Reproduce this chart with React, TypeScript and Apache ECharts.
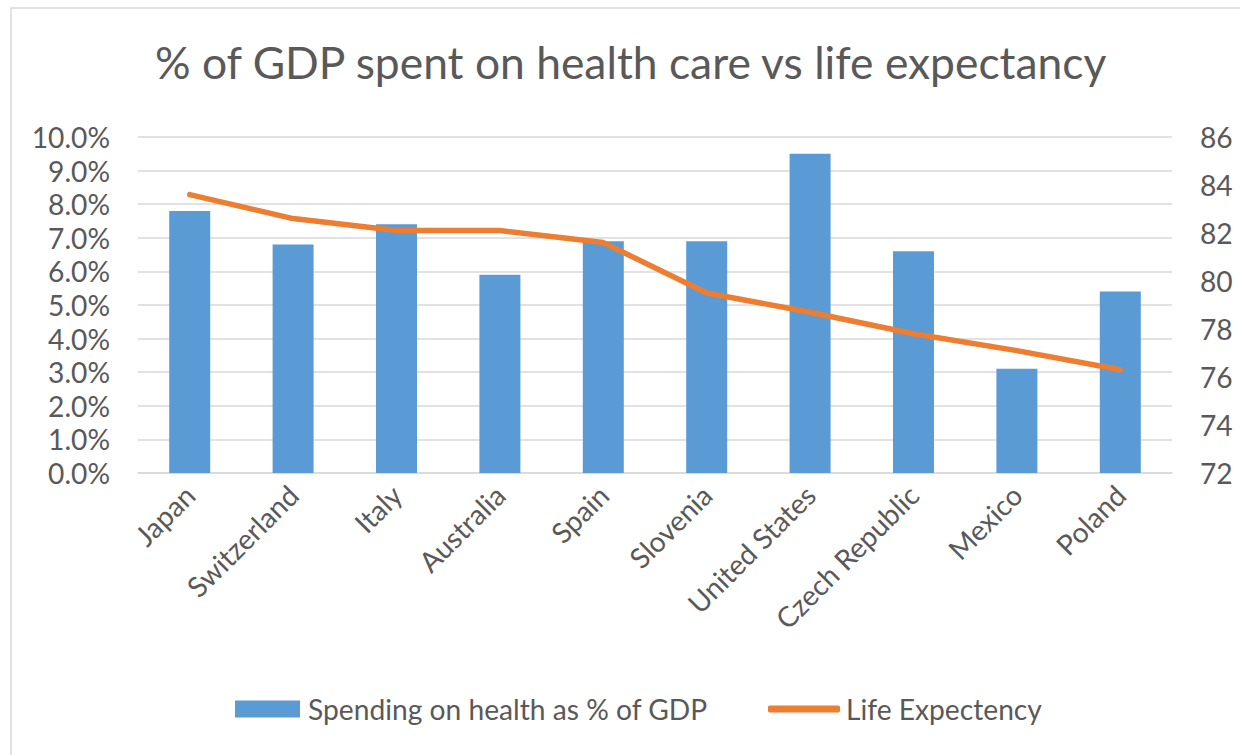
import React, { useEffect, useRef } from "react";
import * as echarts from "echarts";

const categories = ["Japan", "Switzerland", "Italy", "Australia", "Spain", "Slovenia", "United States", "Czech Republic", "Mexico", "Poland"];
const spendingPct = [7.8, 6.8, 7.4, 5.9, 6.9, 6.9, 9.5, 6.6, 3.1, 5.4];
const lifeExpectancy = [83.6, 82.6, 82.1, 82.1, 81.6, 79.5, 78.7, 77.8, 77.1, 76.3];
const seriesNames = ["Spending on health as % of GDP", "Life Expectency"];
const titleText = "% of GDP spent on health care vs life expectancy";

const FONT = "Lato, 'Open Sans', sans-serif";
const TEXT = "#595959";
const GRID = "#d9d9d9";

function fit(text: string, target: number, fallback: number): number {
  try {
    const c = document.createElement("canvas").getContext("2d");
    if (!c) return fallback;
    c.font = `100px ${FONT}`;
    const w = c.measureText(text).width;
    if (!w) return fallback;
    return (100 * target) / w;
  } catch (e) {
    return fallback;
  }
}

export default function App() {
  const ref = useRef<HTMLDivElement>(null);
  useEffect(() => {
    document.body.style.margin = "0";
    if (!ref.current) return;
    const chart = echarts.init(ref.current, null, { renderer: "svg" });
    const fs = fit(seriesNames[0], 400, 27);
    const tfs = fit(titleText, 955, 42);
    chart.setOption({
      animation: false,
      backgroundColor: "#ffffff",
      textStyle: { fontFamily: FONT, color: TEXT },
      graphic: [
        {
          type: "rect",
          shape: { x: 11, y: 8, width: 1260, height: 800 },
          style: { fill: "none", stroke: GRID, lineWidth: 1.5 },
          silent: true,
          z: -10,
        },
      ],
      title: {
        text: titleText,
        left: 155,
        top: 66 - tfs * 0.6,
        padding: 0,
        textStyle: { fontFamily: FONT, fontSize: tfs, fontWeight: "normal", color: TEXT },
      },
      grid: { left: 138, right: 68, top: 137, bottom: 282, containLabel: false },
      legend: [
        {
          data: [{ name: seriesNames[0], icon: "rect" }],
          left: 230,
          top: 707 - fs * 0.6,
          itemWidth: 65,
          itemHeight: 17,
          textStyle: { fontFamily: FONT, fontSize: fs, color: TEXT, padding: [0, 0, 0, 3] },
        },
        {
          data: [{ name: seriesNames[1], icon: "roundRect" }],
          left: 763,
          top: 707 - fs * 0.6,
          itemWidth: 72,
          itemHeight: 7,
          itemStyle: { color: "#ed7d31" },
          textStyle: { fontFamily: FONT, fontSize: fs, color: TEXT, padding: [0, 0, 0, 1] },
        },
      ],
      xAxis: {
        type: "category",
        data: categories,
        axisLine: { lineStyle: { color: GRID, width: 1.5 } },
        axisTick: { show: false },
        axisLabel: { rotate: 45, margin: 17, fontFamily: FONT, fontSize: fs, color: TEXT, interval: 0 },
      },
      yAxis: [
        {
          type: "value",
          min: 0,
          max: 10,
          interval: 1,
          axisLine: { show: false },
          axisTick: { show: false },
          splitLine: { lineStyle: { color: GRID, width: 1.5 } },
          axisLabel: {
            margin: 28,
            fontFamily: FONT,
            fontSize: fs,
            color: TEXT,
            formatter: (v: number) => v.toFixed(1) + "%",
          },
        },
        {
          type: "value",
          min: 72,
          max: 86,
          interval: 2,
          position: "right",
          axisLine: { show: false },
          axisTick: { show: false },
          splitLine: { show: false },
          axisLabel: { margin: 28, fontFamily: FONT, fontSize: fs, color: TEXT },
        },
      ],
      series: [
        {
          name: seriesNames[0],
          type: "bar",
          data: spendingPct,
          barWidth: 41,
          itemStyle: { color: "#5b9bd5" },
          yAxisIndex: 0,
        },
        {
          name: seriesNames[1],
          type: "line",
          data: lifeExpectancy,
          yAxisIndex: 1,
          symbol: "none",
          lineStyle: { color: "#ed7d31", width: 5.5, cap: "round", join: "round" },
          itemStyle: { color: "#ed7d31" },
        },
      ],
    });
    return () => chart.dispose();
  }, []);
  return <div ref={ref} style={{ width: 1240, height: 755 }} />;
}
